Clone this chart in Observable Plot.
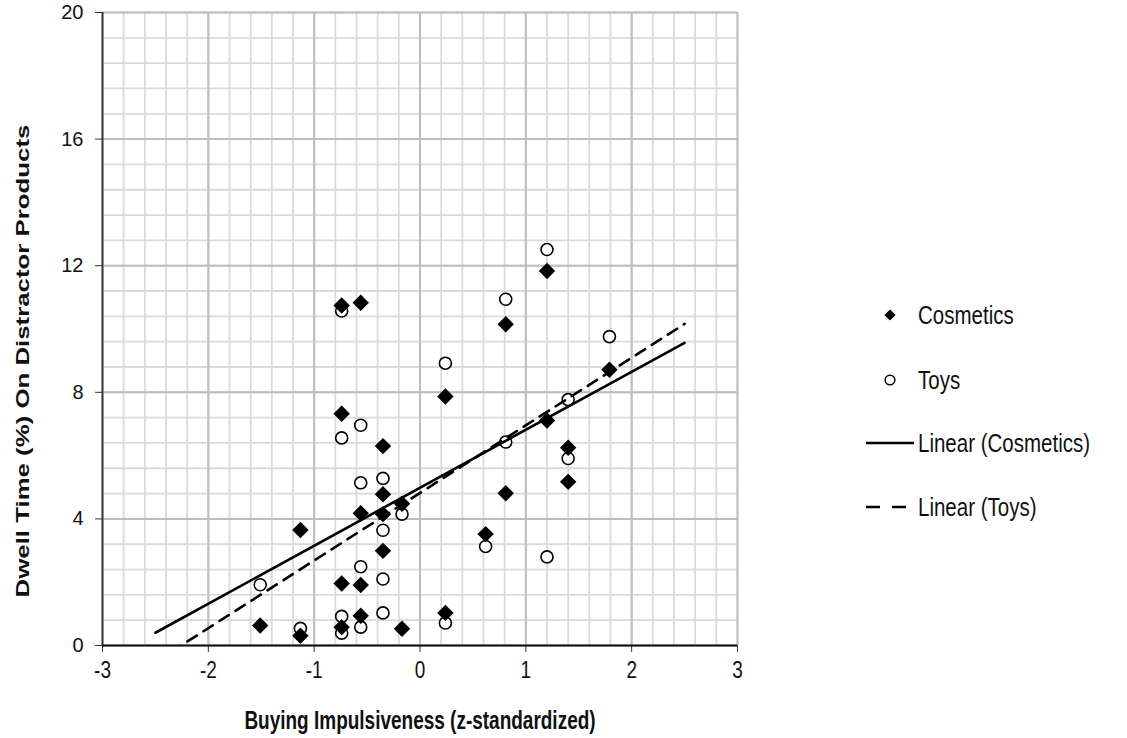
<!DOCTYPE html>
<html><head><meta charset="utf-8">
<script src="https://cdn.jsdelivr.net/npm/d3@7"></script>
<script src="https://cdn.jsdelivr.net/npm/@observablehq/plot@0.6"></script>
<style>
body{margin:0;background:#fff;font-family:"Liberation Sans",Arial,sans-serif;}
#wrap{position:relative;width:1127px;height:738px;overflow:hidden;}
#chart{position:absolute;left:0;top:0;}
.item{position:absolute;height:30px;display:flex;align-items:center;font-size:20.5px;color:#111;white-space:nowrap;}
.item svg{display:block;}
.item span{display:inline-block;transform:scaleY(1.25);transform-origin:left center;}
</style></head><body>
<div id="wrap"><div id="chart"></div><div id="legend"></div></div>
<script>
// Cosmetics (filled diamonds)
const cosX = [-1.51, -1.13, -1.13, -0.74, -0.74, -0.74, -0.74, -0.56, -0.56, -0.56, -0.56,
  -0.35, -0.35, -0.35, -0.35, -0.17, -0.17, 0.24, 0.24, 0.62, 0.81, 0.81, 1.20, 1.20, 1.40, 1.40, 1.79];
const cosY = [0.63, 3.65, 0.31, 10.74, 7.32, 1.96, 0.58, 10.83, 4.18, 1.91, 0.94,
  6.30, 4.78, 4.15, 2.99, 4.48, 0.53, 7.87, 1.03, 3.52, 10.15, 4.81, 11.83, 7.11, 6.25, 5.17, 8.71];
// Toys (open circles)
const toyX = [-1.51, -1.13, -0.74, -0.74, -0.74, -0.74, -0.56, -0.56, -0.56, -0.56,
  -0.35, -0.35, -0.35, -0.35, -0.17, 0.24, 0.24, 0.62, 0.81, 0.81, 1.20, 1.20, 1.40, 1.40, 1.79];
const toyY = [1.92, 0.54, 10.57, 6.56, 0.92, 0.39, 6.96, 5.14, 2.49, 0.58,
  5.28, 3.64, 2.10, 1.03, 4.15, 8.92, 0.71, 3.13, 10.94, 6.43, 12.51, 2.80, 7.77, 5.91, 9.76];
const xTicks = [-3, -2, -1, 0, 1, 2, 3];
const yTicks = [0, 4, 8, 12, 16, 20];
const trendRange = [-2.5, 2.5];
const seriesNames = ["Cosmetics", "Toys", "Linear (Cosmetics)", "Linear (Toys)"];
const xTitle = "Buying Impulsiveness (z-standardized)";
const yTitle = "Dwell Time (%) On Distractor Products";

const cos = cosX.map((x, i) => ({x, y: cosY[i]}));
const toys = toyX.map((x, i) => ({x, y: toyY[i]}));
function fit(data) {
  const mx = d3.mean(data, d => d.x), my = d3.mean(data, d => d.y);
  const b = d3.sum(data, d => (d.x - mx) * (d.y - my)) / d3.sum(data, d => (d.x - mx) ** 2);
  const a = my - b * mx;
  return trendRange.map(x => ({x, y: a + b * x}));
}
const cosTrend = fit(cos), toyTrend = fit(toys);
const minorX = d3.range(-30, 31, 2).map(v => v / 10);
const minorY = d3.range(0, 201, 8).map(v => v / 10);

const chart = Plot.plot({
  width: 760, height: 738,
  marginLeft: 102, marginRight: 23, marginTop: 12, marginBottom: 93,
  style: {fontFamily: "'Liberation Sans', Arial, sans-serif", fontSize: "19px", color: "#111", background: "#fff"},
  x: {domain: [-3, 3]},
  y: {domain: [0, 20]},
  marks: [
    Plot.gridX(minorX, {stroke: "#dadada", strokeOpacity: 1, strokeWidth: 1.8}),
    Plot.gridY(minorY, {stroke: "#dadada", strokeOpacity: 1, strokeWidth: 1.8}),
    Plot.gridX(xTicks, {stroke: "#bdbdbd", strokeOpacity: 1, strokeWidth: 2}),
    Plot.gridY(yTicks, {stroke: "#bdbdbd", strokeOpacity: 1, strokeWidth: 2}),
    Plot.axisX(xTicks, {tickSize: 7, tickPadding: 9, label: null, stroke: "#333",
      tickFormat: d => (d < 0 ? "-" + Math.abs(d) : String(d))}),
    Plot.axisY(yTicks, {tickSize: 7, tickPadding: 12, label: null, stroke: "#333", fontSize: 20}),
    Plot.ruleX([-3], {stroke: "#333", strokeWidth: 1.8}),
    Plot.ruleY([0], {stroke: "#111", strokeWidth: 1.8}),
    Plot.dot(toys, {x: "x", y: "y", r: 6, stroke: "black", fill: "white", strokeWidth: 1.6}),
    Plot.dot(cos, {x: "x", y: "y", symbol: "diamond2", r: 7.4, fill: "black", stroke: "none"}),
    Plot.line(cosTrend, {x: "x", y: "y", stroke: "black", strokeWidth: 2.6, clip: true}),
    Plot.line(toyTrend, {x: "x", y: "y", stroke: "black", strokeWidth: 2.6, strokeDasharray: "11,8", clip: true}),
    Plot.text([xTitle], {frameAnchor: "bottom", dy: 75, lineAnchor: "middle", fontWeight: "bold", fontSize: 19}),
    Plot.text([yTitle], {frameAnchor: "left", dx: -80, dy: 32, rotate: -90, lineAnchor: "middle", textAnchor: "middle", fontWeight: "bold", fontSize: 19})
  ]
});
document.getElementById("chart").appendChild(chart);

// The reference glyphs are drawn taller than wide: stretch titles and x tick labels.
const svg = d3.select(chart);
svg.selectAll("text").each(function() {
  const label = this.parentNode.getAttribute("aria-label") || "";
  if (/y-axis tick/.test(label)) return;
  const t = d3.select(this);
  const tr = t.attr("transform") || "";
  const k = /tick/.test(label) ? 1.25 : 1.36;
  t.attr("transform", tr + (tr.includes("rotate") ? ` scale(${k},1)` : ` scale(1,${k})`));
});

// Legend (HTML, to the right of the chart)
const legend = d3.select("#legend");
const rows = [
  {name: seriesNames[0], cy: 315, kind: "diamond"},
  {name: seriesNames[1], cy: 380, kind: "circle"},
  {name: seriesNames[2], cy: 443, kind: "solid"},
  {name: seriesNames[3], cy: 507, kind: "dash"}
];
rows.forEach(r => {
  const it = legend.append("div").attr("class", "item").style("top", (r.cy - 15) + "px").style("left", "864px");
  const s = it.append("svg").attr("width", 52).attr("height", 30);
  if (r.kind === "diamond") s.append("path").attr("d", d3.symbol(d3.symbolDiamond2, 80)()).attr("transform", "translate(26,15)").attr("fill", "black");
  if (r.kind === "circle") s.append("circle").attr("cx", 26).attr("cy", 15).attr("r", 4.8).attr("fill", "white").attr("stroke", "black").attr("stroke-width", 1.5);
  if (r.kind === "solid") s.append("line").attr("x1", 2).attr("x2", 50).attr("y1", 15).attr("y2", 15).attr("stroke", "black").attr("stroke-width", 2.6);
  if (r.kind === "dash") s.append("line").attr("x1", 2).attr("x2", 50).attr("y1", 15).attr("y2", 15).attr("stroke", "black").attr("stroke-width", 2.6).attr("stroke-dasharray", "14,12");
  it.append("span").style("margin-left", "2px").text(r.name);
});
</script>
</body></html>
